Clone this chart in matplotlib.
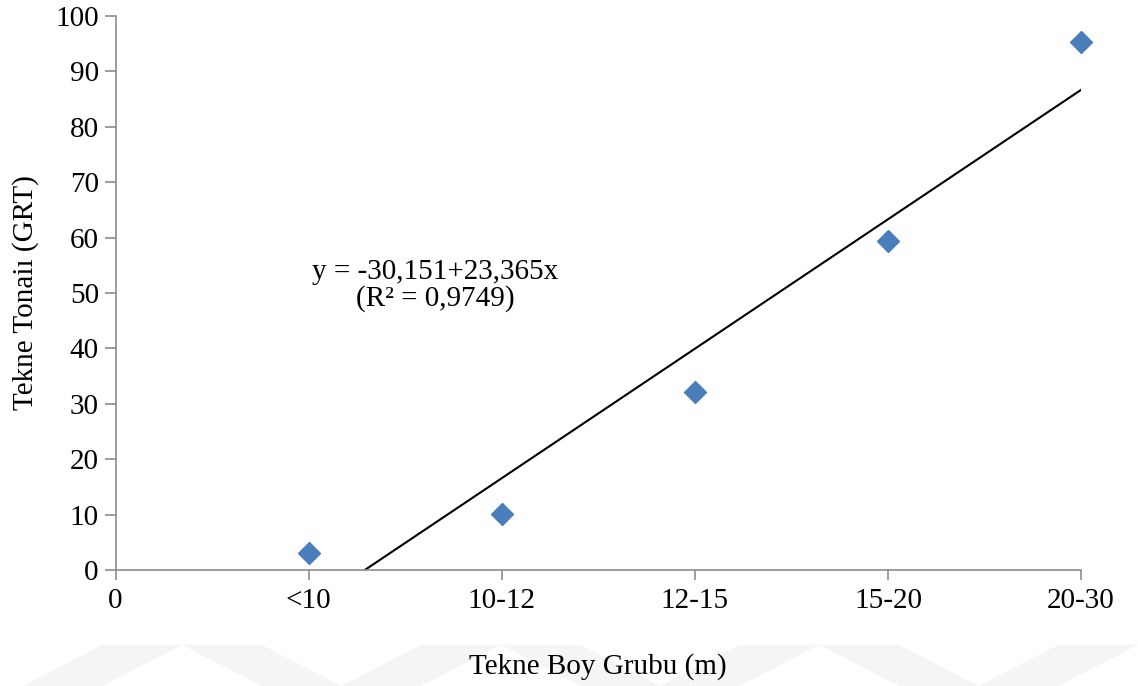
import numpy as np
import matplotlib.pyplot as plt
from matplotlib.patches import Polygon

plt.rcParams['font.family'] = ['Liberation Serif', 'DejaVu Serif']

# categories on the x axis (position 0 is the origin label)
x_labels = ['0', '<10', '10-12', '12-15', '15-20', '20-30']
x_pos = [1, 2, 3, 4, 5]
tonnage = [3.0, 10.2, 32.2, 59.4, 95.3]

# linear trend as reported on the chart
intercept = -30.151
slope = 23.365
r2 = 0.9749

fig = plt.figure(figsize=(11.38, 6.86), dpi=100)

# faint watermark chevrons along the bottom
wm_color = '#f5f5f5'
for x0 in [0.0, 0.28, 0.56, 0.84]:
    fig.patches.append(Polygon(
        [(x0 + 0.02, 0.0), (x0 + 0.09, 0.0), (x0 + 0.16, 0.06), (x0 + 0.09, 0.06)],
        closed=True, transform=fig.transFigure, facecolor=wm_color, edgecolor='none', zorder=-1))
    fig.patches.append(Polygon(
        [(x0 + 0.16, 0.06), (x0 + 0.23, 0.06), (x0 + 0.30, 0.0), (x0 + 0.23, 0.0)],
        closed=True, transform=fig.transFigure, facecolor=wm_color, edgecolor='none', zorder=-1))

ax = fig.add_axes([0.1015, 0.169, 0.8485, 0.8077])
ax.patch.set_alpha(0)

ax.scatter(x_pos, tonnage, marker='D', s=125, color='#4a7ebb', zorder=3, clip_on=False)

x_start = -intercept / slope
x_line = np.array([x_start, x_pos[-1]])
ax.plot(x_line, intercept + slope * x_line, color='black', lw=1.5, zorder=2)

ax.text(1.655, 51.3, f"y = -30,151+23,365x\n(R² = {r2:.4f})".replace('.', ','),
        ha='center', va='center', fontsize=21, linespacing=1.0)

ax.set_xlim(0, 5)
ax.set_ylim(0, 100)
ax.set_xticks(range(len(x_labels)))
ax.set_xticklabels(x_labels)
ax.set_yticks(range(0, 101, 10))

for side in ['top', 'right']:
    ax.spines[side].set_visible(False)
for side in ['left', 'bottom']:
    ax.spines[side].set_color('#8c8c8c')
    ax.spines[side].set_linewidth(1.2)
ax.tick_params(axis='both', colors='#8c8c8c', labelcolor='black', labelsize=21, width=1.2)
ax.tick_params(axis='y', length=8, pad=4)
ax.tick_params(axis='x', length=7, pad=6)

ax.set_xlabel('Tekne Boy Grubu (m)', fontsize=21, labelpad=28)
ax.set_ylabel('Tekne Tonaiı (GRT)', fontsize=21, labelpad=12)

fig.savefig('out.png', dpi=100)
